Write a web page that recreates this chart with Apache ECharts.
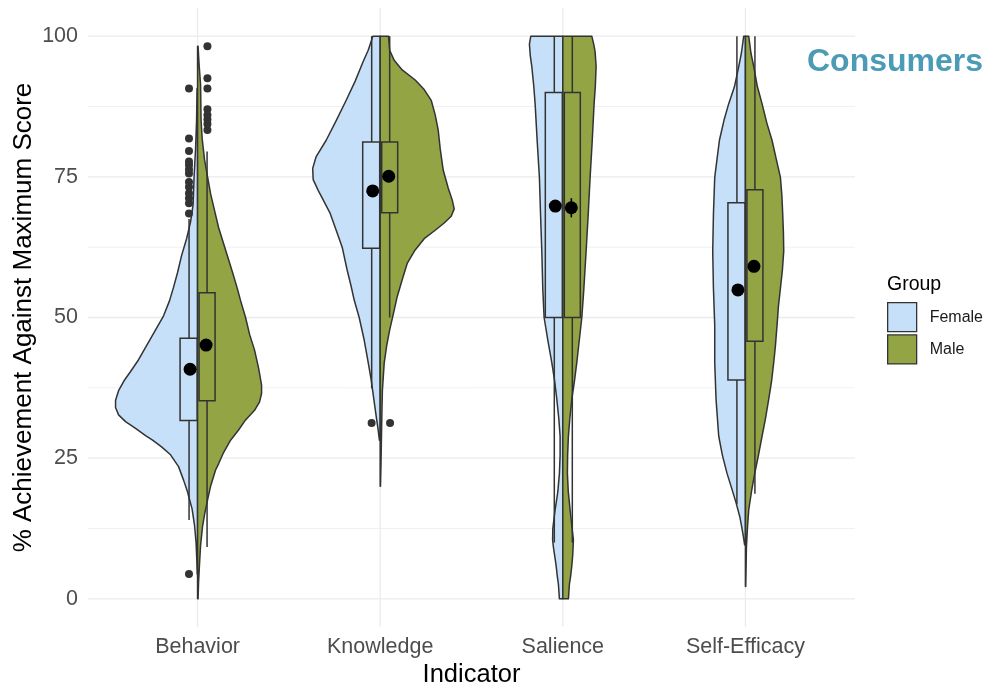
<!DOCTYPE html>
<html>
<head>
<meta charset="utf-8">
<script src="https://cdn.jsdelivr.net/npm/echarts@6/dist/echarts.min.js"></script>
<style>
html,body{margin:0;padding:0;background:#fff;}
#chart{width:984px;height:683px;}
</style>
</head>
<body>
<div id="chart"></div>
<script>
// ---------------- DATA ----------------
const categories = ['Behavior', 'Knowledge', 'Salience', 'Self-Efficacy'];
const groups = ['Female', 'Male'];
const yTicks = [0, 25, 50, 75, 100];
const yMinorTicks = [12.5, 37.5, 62.5, 87.5];

// Half-violin outlines: [score, relative density] (top to bottom)
const behaviorFemale = [[90.7,0.5],[85,1],[80,2],[75,3.5],[70,4.5],[67,7],[64,11],[61,16],[58,20],[55.4,24],[53,28],[50.3,34],[47.8,42],[45,51],[42.5,59],[40.4,67],[38.9,73],[37,79],[35.3,82],[34,82],[32.7,79],[31.5,72],[30.3,62],[29,52],[28.2,45],[27,36],[25.6,27],[23.5,19],[21.1,14],[19,10],[17.6,8],[16,5.5],[13,3],[10,1.5],[7,0.8],[4.4,0.3]];
const behaviorMale = [[98.2,0.5],[95,1.5],[91.4,3],[85,3.5],[81.6,4.7],[78,7],[75,10],[72,13],[69,17],[66,21],[62,28],[58,35],[55,40],[53,43],[50,48],[47,52],[44.2,57],[41,61],[38,64],[36.5,64],[35,62],[33.5,57],[31.8,48],[30,41],[28.2,33],[26,26],[24,21],[22.9,18],[20,13],[17.6,10],[15,7],[12.9,5],[9.5,3],[6.4,2],[3,1],[0,0.5]];
const knowledgeFemale = [[100,7.3],[97.5,12],[95.5,17],[92,25],[88.6,34],[85,44],[81.5,54],[78.6,64],[76.5,67.5],[74.5,67],[72.6,62],[70.9,57],[68.5,50],[65.5,44],[62.5,38],[58.4,33],[55.5,29],[53.1,26],[50,21],[46,16],[42.5,12.5],[38.9,9],[35,6],[31.8,3.5],[30,2],[28.2,0.8]];
const knowledgeMale = [[100,8.3],[97.5,9.5],[95.7,14],[94,22],[92.2,35],[90.5,44],[88.6,51],[86,55],[83.3,58],[80,60],[76.2,63],[73,68],[70.9,72],[69.3,74],[68,71],[66.8,64],[65.5,55],[64,44],[62,35],[59.6,27],[56.7,22],[53.7,17],[50.5,13],[47.8,9.5],[45,6.5],[41.9,4],[37,2.2],[33,1.7],[28,1.2],[24,0.8],[20,0.3]];
const salienceFemale = [[100,32],[98.6,33.4],[96.5,32.5],[94.6,31],[91,29],[88,27.7],[81,25.5],[74.9,23.4],[68,22.2],[61.8,21],[55,20],[50,18.7],[46,15],[42,11],[38.5,8],[35.5,6],[32,4],[28.9,2.7],[25.5,2.7],[22.3,3.4],[19,5],[15.8,7.7],[12.5,10],[10.5,10.2],[9.2,9.4],[7.5,8],[5.9,6.7],[4,5.5],[2.6,4.4],[0,3.4]];
const salienceMale = [[100,29],[98.5,31],[97.2,32.3],[94.6,33.3],[91,32.5],[88,31.3],[81,29.3],[74.9,27.3],[68,25.3],[61.8,23.3],[55,21],[50,19],[46,16.5],[42,14],[38.5,11.5],[35.5,9],[32,7],[28.9,5.6],[25.5,4.8],[22.3,4.6],[19,5.5],[15.8,7.3],[13,9],[10.5,10.6],[8,10],[5.9,9],[4,7.8],[2.6,6.6],[0,5.6]];
const selfEfficacyFemale = [[100,1.7],[97,4],[94.6,6.7],[91,11],[88,16.7],[85,21.5],[81.5,26],[78,28.5],[74.9,30.7],[68.3,32],[61.8,32.7],[55.2,32],[48.6,30.7],[42,30.7],[35.5,29.4],[28.9,26.7],[25.5,23],[22.3,18.4],[19.5,13.5],[17.1,9.4],[14.5,5.5],[12.5,3.4],[11,2],[9.6,0.8]];
const selfEfficacyMale = [[100,3.3],[97,5.5],[94.6,8.3],[91,12],[88,16.6],[84.5,21.5],[81.5,26.6],[78,31],[74.9,35],[71.5,36.5],[68.3,37.3],[65,38],[61.8,38.3],[58.5,37],[55.2,35],[52,33],[48.6,31.6],[45,30],[42,28.3],[38.5,26],[35.5,23.3],[32,20],[28.9,16.6],[25.5,13],[22.3,9.3],[19,6],[15.8,3.3],[12.5,2],[9.2,1],[5,0.6],[2.2,0.3]];

// Box stats: [lower whisker, Q1, Q3, upper whisker]
const femaleBox = [[14,31.7,46.3,67.5],[37.4,62.3,81.2,100],[10,50,90,100],[16.8,38.9,70.4,100]];
const maleBox = [[9.2,35.2,54.4,79.5],[50,68.6,81.2,100],[10,50,90,100],[18.7,45.8,72.7,100]];

// Means and standard errors
const femaleMean = [40.8, 72.5, 69.8, 54.9];
const maleMean = [45.1, 75.1, 69.5, 59.1];
const femaleSE = [0.6, 0.8, 1.0, 0.9];
const maleSE = [0.7, 0.8, 1.7, 1.0];

// Outliers
const femaleOutliers = [[4.4,68.5,70.3,71.2,72.1,73.2,74.1,75.6,76.3,77.1,77.7,79.6,81.8,90.7],[31.25],[],[]];
const maleOutliers = [[83.3,84.4,85.2,86.0,87.0,90.7,92.5,98.2],[31.25],[],[]];

// ---------------- STYLE / LAYOUT ----------------
const FEMALE = '#C6E0F9';
const MALE = '#93A445';
const EDGE = '#333333';
const LW = 1.5;
const FONT = 'Liberation Sans, Arial, Helvetica, sans-serif';
const DENS_SCALE = 1 / 182.6;
const FEMALE_VIOLINS = [behaviorFemale, knowledgeFemale, salienceFemale, selfEfficacyFemale];
const MALE_VIOLINS = [behaviorMale, knowledgeMale, salienceMale, selfEfficacyMale];
const OFF = {
  Female: {box: [-0.0958, -0.0027], whisk: -0.0466, mean: -0.041, out: -0.047},
  Male:   {box: [0.0082, 0.0958], whisk: 0.052, mean: 0.0466, out: 0.054}
};

function violinItem(dens, side, fill) {
  return function (params, api) {
    const cx = params.dataIndex + 1;
    const d = dens[params.dataIndex];
    const pts = [api.coord([cx, d[0][0]])];
    d.forEach(p => pts.push(api.coord([cx + side * p[1] * DENS_SCALE, p[0]])));
    pts.push(api.coord([cx, d[d.length - 1][0]]));
    return {type: 'polygon', shape: {points: pts}, style: {fill: fill, stroke: EDGE, lineWidth: LW, lineJoin: 'round'}};
  };
}
function boxItem(boxes, off, fill) {
  return function (params, api) {
    const cx = params.dataIndex + 1;
    const b = boxes[params.dataIndex];
    const tl = api.coord([cx + off.box[0], b[2]]);
    const br = api.coord([cx + off.box[1], b[1]]);
    const w1 = api.coord([cx + off.whisk, b[2]]), w2 = api.coord([cx + off.whisk, b[3]]);
    const w3 = api.coord([cx + off.whisk, b[1]]), w4 = api.coord([cx + off.whisk, b[0]]);
    const ls = {stroke: EDGE, lineWidth: LW};
    return {type: 'group', children: [
      {type: 'line', shape: {x1: w1[0], y1: w1[1], x2: w2[0], y2: w2[1]}, style: ls},
      {type: 'line', shape: {x1: w3[0], y1: w3[1], x2: w4[0], y2: w4[1]}, style: ls},
      {type: 'rect', shape: {x: tl[0], y: tl[1], width: br[0] - tl[0], height: br[1] - tl[1]}, style: {fill: fill, stroke: EDGE, lineWidth: LW}}
    ]};
  };
}
function seItem(means, ses, off) {
  return function (params, api) {
    const i = params.dataIndex, cx = i + 1;
    const a = api.coord([cx + off.mean, means[i] - ses[i]]);
    const b = api.coord([cx + off.mean, means[i] + ses[i]]);
    return {type: 'line', shape: {x1: a[0], y1: a[1], x2: b[0], y2: b[1]}, style: {stroke: '#000', lineWidth: 1.6}};
  };
}
function gridItem(params, api) {
  const children = [];
  yTicks.forEach(v => {
    const a = api.coord([0.4, v]), b = api.coord([4.6, v]);
    children.push({type: 'line', shape: {x1: a[0], y1: a[1], x2: b[0], y2: b[1]}, style: {stroke: '#EBEBEB', lineWidth: 1.3}});
  });
  yMinorTicks.forEach(v => {
    const a = api.coord([0.4, v]), b = api.coord([4.6, v]);
    children.push({type: 'line', shape: {x1: a[0], y1: a[1], x2: b[0], y2: b[1]}, style: {stroke: '#EDEDED', lineWidth: 0.8}});
  });
  categories.forEach((c, i) => {
    const a = api.coord([i + 1, -5]), b = api.coord([i + 1, 105]);
    children.push({type: 'line', shape: {x1: a[0], y1: a[1], x2: b[0], y2: b[1]}, style: {stroke: '#EBEBEB', lineWidth: 1.3}});
  });
  return {type: 'group', children: children};
}

const catData = categories.map((c, i) => [i + 1, 50]);
function outlierData(outs, off) {
  const r = [];
  outs.forEach((arr, i) => arr.forEach(v => r.push([i + 1 + off.out, v])));
  return r;
}

const chart = echarts.init(document.getElementById('chart'), null, {renderer: 'canvas'});
chart.setOption({
  animation: false,
  textStyle: {fontFamily: FONT},
  title: [
    {text: 'Consumers', left: 807, top: 46, padding: 0, textStyle: {fontSize: 32, fontWeight: 'bold', color: '#4B9BB7', fontFamily: FONT}},
    {text: 'Group', left: 887, top: 275, padding: 0, textStyle: {fontSize: 19.5, fontWeight: 'normal', color: '#000', fontFamily: FONT}}
  ],
  legend: {
    orient: 'vertical', left: 887, top: 302, padding: 0, itemWidth: 29, itemHeight: 29, itemGap: 2,
    selectedMode: false,
    textStyle: {fontSize: 16, color: '#1a1a1a', fontFamily: FONT, padding: [0, 0, 0, 8]},
    data: [
      {name: 'Female', icon: 'rect', itemStyle: {color: FEMALE, borderColor: EDGE, borderWidth: 1.3}},
      {name: 'Male', icon: 'rect', itemStyle: {color: MALE, borderColor: EDGE, borderWidth: 1.3}}
    ]
  },
  grid: {left: 88, right: 129, top: 8, bottom: 56, containLabel: false, outerBoundsMode: 'none'},
  xAxis: {
    type: 'value', min: 0.4, max: 4.6,
    name: 'Indicator', nameLocation: 'middle', nameGap: 35, nameMoveOverlap: false,
    nameTextStyle: {fontSize: 25.5, color: '#000', fontFamily: FONT},
    axisLine: {show: false}, axisTick: {show: false}, splitLine: {show: false},
    axisLabel: {customValues: [1, 2, 3, 4], formatter: v => categories[Math.round(v) - 1] || '', fontSize: 21.5, color: '#4D4D4D', margin: 9, fontFamily: FONT}
  },
  yAxis: {
    type: 'value', min: -5, max: 105,
    name: '% Achievement Against Maximum Score', nameLocation: 'middle', nameGap: 51, nameRotate: 90, nameMoveOverlap: false,
    nameTextStyle: {fontSize: 26, color: '#000', fontFamily: FONT},
    axisLine: {show: false}, axisTick: {show: false}, splitLine: {show: false},
    axisLabel: {customValues: yTicks, fontSize: 21.5, color: '#4D4D4D', margin: 10, fontFamily: FONT}
  },
  series: [
    {type: 'custom', name: 'grid', silent: true, data: [[1, 50]], renderItem: gridItem, z: 0},
    {type: 'custom', name: 'Female', data: catData, itemStyle: {color: FEMALE}, renderItem: violinItem(FEMALE_VIOLINS, -1, FEMALE), z: 1},
    {type: 'custom', name: 'Male', data: catData, itemStyle: {color: MALE}, renderItem: violinItem(MALE_VIOLINS, 1, MALE), z: 1},
    {type: 'custom', name: 'Female', data: catData, itemStyle: {color: FEMALE}, renderItem: boxItem(femaleBox, OFF.Female, FEMALE), z: 2},
    {type: 'custom', name: 'Male', data: catData, itemStyle: {color: MALE}, renderItem: boxItem(maleBox, OFF.Male, MALE), z: 2},
    {type: 'scatter', name: 'Female outliers', data: outlierData(femaleOutliers, OFF.Female), symbolSize: 8, itemStyle: {color: '#333', opacity: 1}, z: 3},
    {type: 'scatter', name: 'Male outliers', data: outlierData(maleOutliers, OFF.Male), symbolSize: 8, itemStyle: {color: '#333', opacity: 1}, z: 3},
    {type: 'custom', name: 'Female se', data: catData, renderItem: seItem(femaleMean, femaleSE, OFF.Female), z: 4},
    {type: 'custom', name: 'Male se', data: catData, renderItem: seItem(maleMean, maleSE, OFF.Male), z: 4},
    {type: 'scatter', name: 'Female mean', data: femaleMean.map((v, i) => [i + 1 + OFF.Female.mean, v]), symbolSize: 13, itemStyle: {color: '#000', opacity: 1}, z: 5},
    {type: 'scatter', name: 'Male mean', data: maleMean.map((v, i) => [i + 1 + OFF.Male.mean, v]), symbolSize: 13, itemStyle: {color: '#000', opacity: 1}, z: 5}
  ]
});
</script>
</body>
</html>
